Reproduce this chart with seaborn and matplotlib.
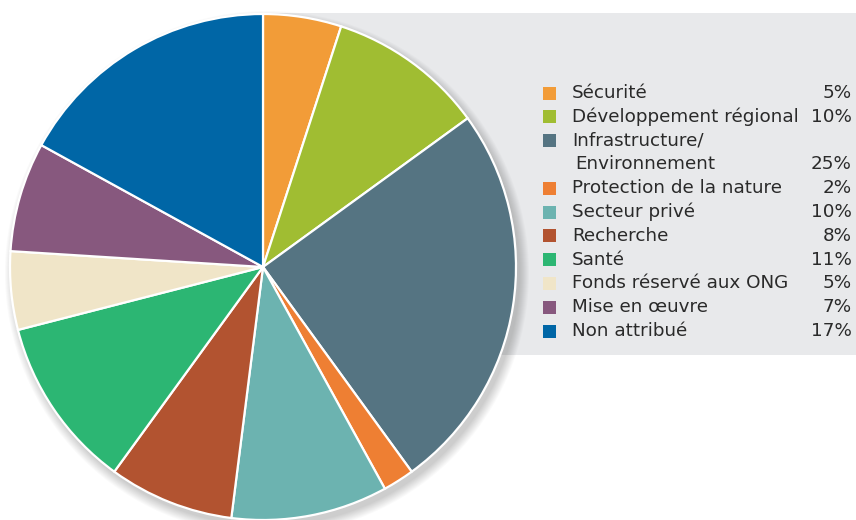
import matplotlib
matplotlib.use("Agg")
import matplotlib.pyplot as plt
import seaborn as sns
from matplotlib.patches import Rectangle, Circle

# budget shares, clockwise from 12 o'clock
categories = ["Sécurité", "Développement régional", "Infrastructure/\nEnvironnement",
              "Protection de la nature", "Secteur privé", "Recherche", "Santé",
              "Fonds réservé aux ONG", "Mise en œuvre", "Non attribué"]
shares = [5, 10, 25, 2, 10, 8, 11, 5, 7, 17]
colors = ["#f29c38", "#a0bd32", "#557482", "#ee7f33", "#6cb3b0",
          "#b25330", "#2cb673", "#f0e5c8", "#87587e", "#0066a6"]

sns.set_theme(style="white")
plt.rcParams['font.family'] = ['DejaVu Sans']

W, H = 856, 520
fig = plt.figure(figsize=(W / 100, H / 100), dpi=100)
ax = fig.add_axes([0, 0, 1, 1])

# grey panel behind the legend
ax.add_patch(Rectangle((263, H - 355), W - 263, 342, color="#e8e9eb", zorder=0, lw=0))

cx, cy, r = 263, H - 267, 253

# soft drop shadow
for k in range(10):
    ax.add_patch(Circle((cx + 4, cy - 6), r + 9 - k, color="#000000",
                        alpha=0.02, lw=0, zorder=1))

ax.pie(shares, colors=colors, startangle=90, counterclock=False,
       center=(cx, cy), radius=r,
       wedgeprops=dict(edgecolor="white", linewidth=1.6, zorder=2))

ax.set_xlim(0, W)
ax.set_ylim(0, H)
ax.set_aspect("equal")
ax.axis("off")

# legend
y = 93
step = 23.8
fs = 13.2
for cat, val, col in zip(categories, shares, colors):
    lines = cat.split("\n")
    ax.add_patch(Rectangle((543, H - y - 6.5), 13, 13, color=col, lw=0, zorder=3))
    for i, line in enumerate(lines):
        ax.text(572 + (3 if i > 0 else 0), H - y, line, fontsize=fs,
                color="#2a2a2a", va="center", ha="left")
        if i < len(lines) - 1:
            y += step
    ax.text(852, H - y, f"{val}%", fontsize=fs, color="#2a2a2a",
            va="center", ha="right")
    y += step

fig.savefig("out.png", dpi=100)
